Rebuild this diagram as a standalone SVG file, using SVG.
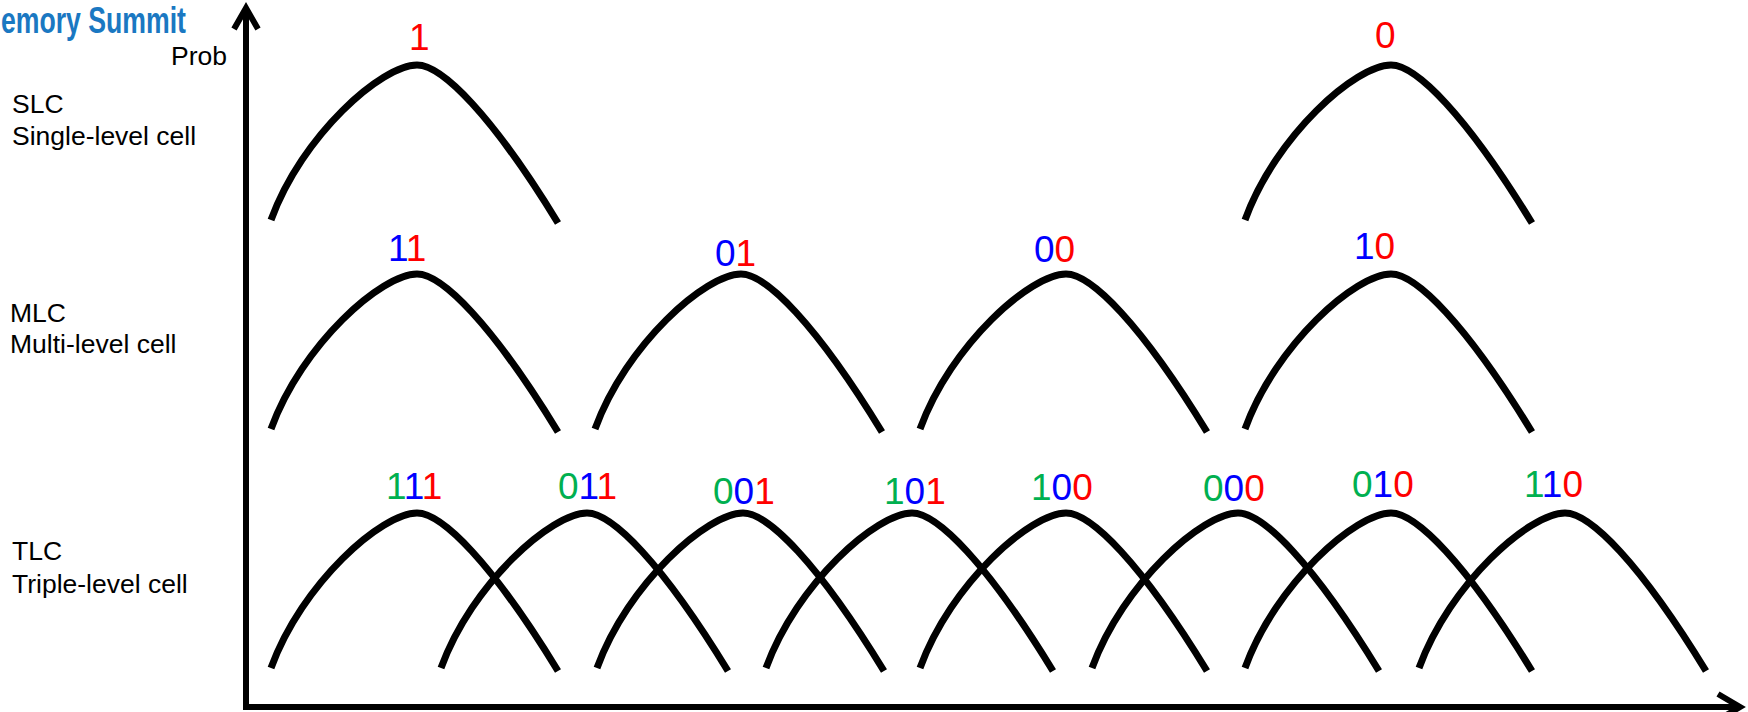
<svg xmlns="http://www.w3.org/2000/svg" xmlns:xlink="http://www.w3.org/1999/xlink" width="1748" height="712" viewBox="0 0 1748 712">
<style>
.lbl{font-family:"Liberation Sans",Arial,sans-serif;font-size:26.5px;fill:#000}
.bits{font-family:"Liberation Sans",Arial,sans-serif;font-size:37px}
.g{fill:#00b050}.b{fill:#0000ff}.r{fill:#ff0000}
.axis{fill:none;stroke:#000;stroke-width:6;stroke-linejoin:miter}
.logo{font-family:"Liberation Sans",Arial,sans-serif;font-size:36px;font-weight:bold;fill:#1a78c2}
</style>
<defs>
<path id="bell" d="M-146,155 C-115,70 -35,0 0,0 C25,0 75,50 141,158" fill="none" stroke="#000" stroke-width="7"/>
</defs>
<rect width="1748" height="712" fill="#fff"/>
<g id="logo"><text class="logo" x="1" y="33" textLength="185" lengthAdjust="spacingAndGlyphs">emory Summit</text></g>
<g id="axes">
<line class="axis" x1="246" y1="710" x2="246" y2="9"/>
<polyline class="axis" points="234,29 246,8 258,29"/>
<line class="axis" x1="243" y1="707" x2="1738" y2="707"/>
<polyline class="axis" points="1718,694 1740,707 1718,720"/>
<text class="lbl" x="171" y="65">Prob</text>
</g>
<g id="slc">
<text class="lbl" x="12" y="113">SLC</text>
<text class="lbl" x="12" y="145">Single-level cell</text>
<use xlink:href="#bell" x="417" y="65"/>
<use xlink:href="#bell" x="1391" y="65"/>
<text class="bits" x="409" y="50"><tspan class="r">1</tspan></text>
<text class="bits" x="1375" y="48"><tspan class="r">0</tspan></text>
</g>
<g id="mlc">
<text class="lbl" x="10" y="322">MLC</text>
<text class="lbl" x="10" y="353">Multi-level cell</text>
<use xlink:href="#bell" x="417" y="274"/>
<use xlink:href="#bell" x="741" y="274"/>
<use xlink:href="#bell" x="1066" y="274"/>
<use xlink:href="#bell" x="1391" y="274"/>
<text class="bits" x="388" y="261"><tspan class="b">1</tspan><tspan class="r">1</tspan></text>
<text class="bits" x="715" y="266"><tspan class="b">0</tspan><tspan class="r">1</tspan></text>
<text class="bits" x="1034" y="262"><tspan class="b">0</tspan><tspan class="r">0</tspan></text>
<text class="bits" x="1354" y="259"><tspan class="b">1</tspan><tspan class="r">0</tspan></text>
</g>
<g id="tlc">
<text class="lbl" x="12" y="560">TLC</text>
<text class="lbl" x="12" y="593">Triple-level cell</text>
<use xlink:href="#bell" x="417" y="513"/>
<use xlink:href="#bell" x="587" y="513"/>
<use xlink:href="#bell" x="743" y="513"/>
<use xlink:href="#bell" x="912" y="513"/>
<use xlink:href="#bell" x="1066" y="513"/>
<use xlink:href="#bell" x="1238" y="513"/>
<use xlink:href="#bell" x="1391" y="513"/>
<use xlink:href="#bell" x="1565" y="513"/>
<text class="bits" x="386" y="499"><tspan class="g">1</tspan><tspan class="b">1</tspan><tspan class="r">1</tspan></text>
<text class="bits" x="558" y="499"><tspan class="g">0</tspan><tspan class="b">1</tspan><tspan class="r">1</tspan></text>
<text class="bits" x="713" y="504"><tspan class="g">0</tspan><tspan class="b">0</tspan><tspan class="r">1</tspan></text>
<text class="bits" x="884" y="504"><tspan class="g">1</tspan><tspan class="b">0</tspan><tspan class="r">1</tspan></text>
<text class="bits" x="1031" y="500"><tspan class="g">1</tspan><tspan class="b">0</tspan><tspan class="r">0</tspan></text>
<text class="bits" x="1203" y="501"><tspan class="g">0</tspan><tspan class="b">0</tspan><tspan class="r">0</tspan></text>
<text class="bits" x="1352" y="497"><tspan class="g">0</tspan><tspan class="b">1</tspan><tspan class="r">0</tspan></text>
<text class="bits" x="1524" y="497"><tspan class="g">1</tspan><tspan class="b">1</tspan><tspan class="r">0</tspan></text>
</g>
</svg>
